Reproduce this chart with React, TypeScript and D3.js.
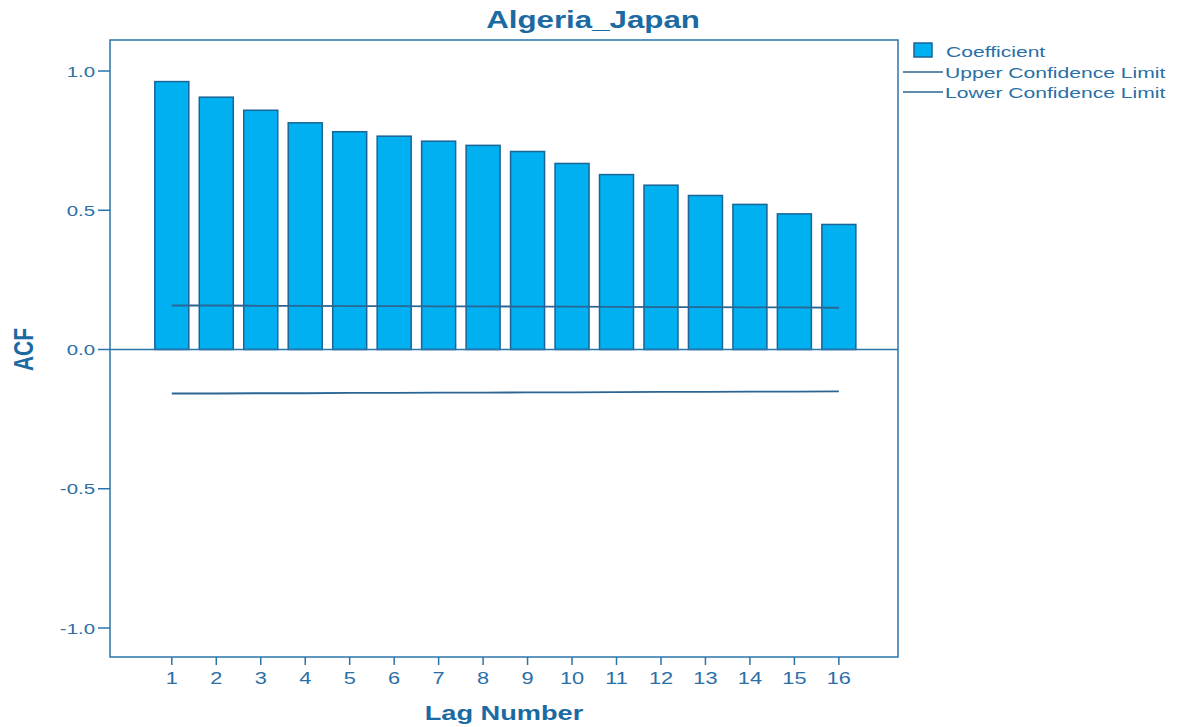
import React from "react";
import * as d3 from "d3";

const title = "Algeria_Japan";
const lags = [1, 2, 3, 4, 5, 6, 7, 8, 9, 10, 11, 12, 13, 14, 15, 16];
const coefficient = [0.962, 0.906, 0.859, 0.814, 0.782, 0.766, 0.748, 0.733, 0.711, 0.668, 0.628, 0.59, 0.553, 0.521, 0.487, 0.449];
const upperLimit = [0.158, 0.158, 0.157, 0.157, 0.156, 0.156, 0.155, 0.155, 0.154, 0.154, 0.153, 0.152, 0.152, 0.151, 0.151, 0.15];
const lowerLimit = [-0.158, -0.158, -0.157, -0.157, -0.156, -0.156, -0.155, -0.155, -0.154, -0.154, -0.153, -0.152, -0.152, -0.151, -0.151, -0.15];
const yTicks = [-1.0, -0.5, 0.0, 0.5, 1.0];
const legendLabels = ["Coefficient", "Upper Confidence Limit", "Lower Confidence Limit"];

const W = 1181;
const H = 727;
const frame = { left: 110, top: 40, right: 898, bottom: 657 };
const FONT = "'Liberation Sans', Arial, sans-serif";
const TEXT = "#2a6fa5";
const AXIS = "#2b74ab";
const BAR_FILL = "#00b0f0";
const BAR_STROKE = "#1a6496";
const LINE = "#2a6594";
const SX = 1.36;

function T(props: {
  x: number;
  y: number;
  anchor?: "start" | "middle" | "end";
  size: number;
  bold?: boolean;
  fill?: string;
  children: React.ReactNode;
}) {
  return (
    <text
      transform={`translate(${props.x},${props.y}) scale(${SX},1)`}
      textAnchor={props.anchor || "start"}
      fontFamily={FONT}
      fontWeight={props.bold ? "bold" : "normal"}
      fontSize={props.size}
      fill={props.fill || TEXT}
    >
      {props.children}
    </text>
  );
}

export default function App() {
  const x = d3.scaleLinear().domain([-0.39, 17.33]).range([frame.left, frame.right]);
  const yc = d3.scaleLinear().domain([-1, 1]).range([628, 71]);
  const barW = 34;
  const line = d3
    .line<number>()
    .x((_, i) => x(lags[i]))
    .y((d) => yc(d));

  return (
    <svg width={W} height={H} style={{ position: "absolute", left: 0, top: 0, background: "#fff" }}>
      <rect x={0} y={0} width={W} height={H} fill="#fff" />
      <T x={593} y={28} anchor="middle" size={23} bold fill="#1b6aa1">
        {title}
      </T>
      {coefficient.map((v, i) => (
        <rect
          key={i}
          x={x(lags[i]) - barW / 2}
          y={yc(Math.max(0, v))}
          width={barW}
          height={Math.abs(yc(v) - yc(0))}
          fill={BAR_FILL}
          stroke={BAR_STROKE}
          strokeWidth={1.5}
        />
      ))}
      <path d={line(upperLimit) || ""} fill="none" stroke={LINE} strokeWidth={1.8} />
      <path d={line(lowerLimit) || ""} fill="none" stroke={LINE} strokeWidth={1.8} />
      <line x1={frame.left} x2={frame.right} y1={yc(0)} y2={yc(0)} stroke={AXIS} strokeWidth={1.5} />
      <rect
        x={frame.left}
        y={frame.top}
        width={frame.right - frame.left}
        height={frame.bottom - frame.top}
        fill="none"
        stroke={AXIS}
        strokeWidth={1.5}
      />
      {yTicks.map((t) => (
        <g key={t}>
          <line x1={frame.left - 12} x2={frame.left} y1={yc(t)} y2={yc(t)} stroke={AXIS} strokeWidth={1.5} />
          <T x={frame.left - 15} y={yc(t) + 5.5} anchor="end" size={15}>
            {t.toFixed(1)}
          </T>
        </g>
      ))}
      {lags.map((l) => (
        <g key={l}>
          <line x1={x(l)} x2={x(l)} y1={frame.bottom} y2={frame.bottom + 8} stroke={AXIS} strokeWidth={1.5} />
          <T x={x(l)} y={frame.bottom + 27} anchor="middle" size={16}>
            {l}
          </T>
        </g>
      ))}
      <T x={504} y={720} anchor="middle" size={20} bold fill="#1b6aa1">
        Lag Number
      </T>
      <text
        transform={`translate(33, ${yc(0)}) rotate(-90) scale(1,${SX})`}
        textAnchor="middle"
        fontFamily={FONT}
        fontWeight="bold"
        fontSize={21}
        fill="#1b6aa1"
      >
        ACF
      </text>
      <rect x={914} y={43} width={18} height={14} fill={BAR_FILL} stroke={BAR_STROKE} strokeWidth={1.5} />
      <T x={946} y={57} size={15.5}>
        {legendLabels[0]}
      </T>
      <line x1={903} x2={943} y1={72} y2={72} stroke={LINE} strokeWidth={1.5} />
      <T x={945} y={78} size={15.5}>
        {legendLabels[1]}
      </T>
      <line x1={903} x2={943} y1={92} y2={92} stroke={LINE} strokeWidth={1.5} />
      <T x={945} y={98} size={15.5}>
        {legendLabels[2]}
      </T>
    </svg>
  );
}
